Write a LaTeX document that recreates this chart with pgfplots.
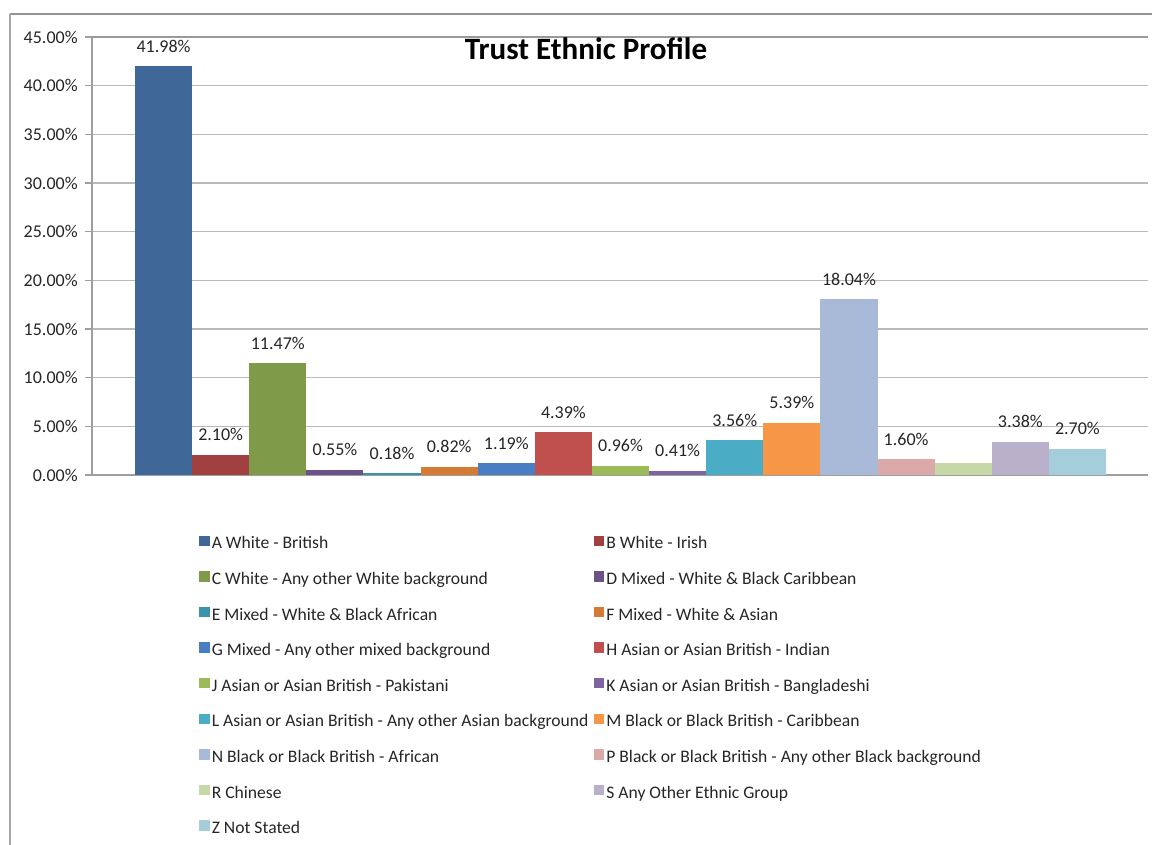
\documentclass[border=0pt]{standalone}
\usepackage{pgfplots}
\pgfplotsset{compat=1.18}
\usepackage{fontspec}
\setmainfont{Carlito}
\definecolor{cA}{HTML}{3F6797}
\definecolor{cB}{HTML}{A0413F}
\definecolor{cC}{HTML}{7F9A48}
\definecolor{cD}{HTML}{6A5388}
\definecolor{cE}{HTML}{3A93AA}
\definecolor{cF}{HTML}{D57B33}
\definecolor{cG}{HTML}{4A7EC2}
\definecolor{cH}{HTML}{C0504D}
\definecolor{cJ}{HTML}{9BBB59}
\definecolor{cK}{HTML}{8064A2}
\definecolor{cL}{HTML}{4BACC6}
\definecolor{cM}{HTML}{F79646}
\definecolor{cN}{HTML}{A9B9D8}
\definecolor{cP}{HTML}{DBA9A8}
\definecolor{cR}{HTML}{C6D7A8}
\definecolor{cS}{HTML}{BAB0C9}
\definecolor{cZ}{HTML}{A5CDDC}
\pgfplotsset{
  bar/.style={ybar, bar width=1, bar shift=0pt, fill=#1, draw=none, forget plot},
  lab/.style={nodes near coords={\pgfmathprintnumber[fixed,fixed zerofill,precision=2]{\pgfplotspointmeta}\%},
     nodes near coords style={font=\fontsize{13.5}{15}\selectfont, text=black!85, anchor=south, yshift=7pt}},
  li/.style={legend image code/.code={\fill[#1] (0pt,-0.3pt) rectangle (7pt,6.7pt);}},
}
\begin{document}
\begin{tikzpicture}
\useasboundingbox (-69pt,-277.5pt) rectangle (795pt,356.25pt);
\draw[gray!85, line width=1.6pt] (-61.5pt,345.75pt) -- (795pt,345.75pt);
\draw[gray!70, line width=1pt] (-61.5pt,345.75pt) -- (-61.5pt,-277.5pt);
\begin{axis}[
  at={(0pt,0pt)}, anchor=south west,
  scale only axis, width=792pt, height=328.5pt,
  xmin=-1.253, xmax=17.235, ymin=0, ymax=45,
  ytick={0,5,...,45}, xtick=\empty,
  axis x line*=bottom, axis y line*=left,
  axis line style={gray!75, line width=0.9pt},
  tick align=outside, major tick length=5.25pt,
  ytick style={gray!75, line width=0.9pt},
  xtick style={draw=none},
  ymajorgrids, grid style={gray!55, line width=0.9pt},
  /pgf/number format/assume math mode=true,
  yticklabel={\pgfmathprintnumber[fixed,fixed zerofill,precision=2]{\tick}\%},
  yticklabel style={font=\fontsize{13.5}{15}\selectfont, text=black!85, xshift=-2pt},
  title={\textbf{Trust Ethnic Profile}},
  every axis title shift=0pt,
  title style={at={(0.4678,0.9475)}, anchor=base, font=\fontsize{23.3}{27}\selectfont},
  legend columns=2,
  legend cell align=left,
  legend style={at={(0.0975,-0.13)}, anchor=north west, draw=none, fill=none,
    font=\fontsize{13.2}{15}\selectfont, text=black!85,
    row sep=11.7pt,
    nodes={inner sep=2pt, text height=8.5pt, text depth=2.5pt},
    /tikz/every even column/.append style={column sep=2pt}},
]
\draw[gray!80, line width=1pt] (rel axis cs:0,1) -- (rel axis cs:1,1);
\addplot[bar=cA, lab] coordinates {(0,41.98)};
\addplot[bar=cB, lab] coordinates {(1,2.10)};
\addplot[bar=cC, lab] coordinates {(2,11.47)};
\addplot[bar=cD, lab] coordinates {(3,0.55)};
\addplot[bar=cE, lab] coordinates {(4,0.18)};
\addplot[bar=cF, lab] coordinates {(5,0.82)};
\addplot[bar=cG, lab] coordinates {(6,1.19)};
\addplot[bar=cH, lab] coordinates {(7,4.39)};
\addplot[bar=cJ, lab] coordinates {(8,0.96)};
\addplot[bar=cK, lab] coordinates {(9,0.41)};
\addplot[bar=cL, lab] coordinates {(10,3.56)};
\addplot[bar=cM, lab] coordinates {(11,5.39)};
\addplot[bar=cN, lab] coordinates {(12,18.04)};
\addplot[bar=cP, lab] coordinates {(13,1.60)};
\addplot[bar=cR] coordinates {(14,1.24)};
\addplot[bar=cS, lab] coordinates {(15,3.38)};
\addplot[bar=cZ, lab] coordinates {(16,2.70)};
\addlegendimage{li=cA}\addlegendentry{A White - British}
\addlegendimage{li=cB}\addlegendentry{B White - Irish}
\addlegendimage{li=cC}\addlegendentry{C White - Any other White background}
\addlegendimage{li=cD}\addlegendentry{D Mixed - White \& Black Caribbean}
\addlegendimage{li=cE}\addlegendentry{E Mixed - White \& Black African}
\addlegendimage{li=cF}\addlegendentry{F Mixed - White \& Asian}
\addlegendimage{li=cG}\addlegendentry{G Mixed - Any other mixed background}
\addlegendimage{li=cH}\addlegendentry{H Asian or Asian British - Indian}
\addlegendimage{li=cJ}\addlegendentry{J Asian or Asian British - Pakistani}
\addlegendimage{li=cK}\addlegendentry{K Asian or Asian British - Bangladeshi}
\addlegendimage{li=cL}\addlegendentry{L Asian or Asian British - Any other Asian background}
\addlegendimage{li=cM}\addlegendentry{M Black or Black British - Caribbean}
\addlegendimage{li=cN}\addlegendentry{N Black or Black British - African}
\addlegendimage{li=cP}\addlegendentry{P Black or Black British - Any other Black background}
\addlegendimage{li=cR}\addlegendentry{R Chinese}
\addlegendimage{li=cS}\addlegendentry{S Any Other Ethnic Group}
\addlegendimage{li=cZ}\addlegendentry{Z Not Stated}
\end{axis}
\end{tikzpicture}
\end{document}
